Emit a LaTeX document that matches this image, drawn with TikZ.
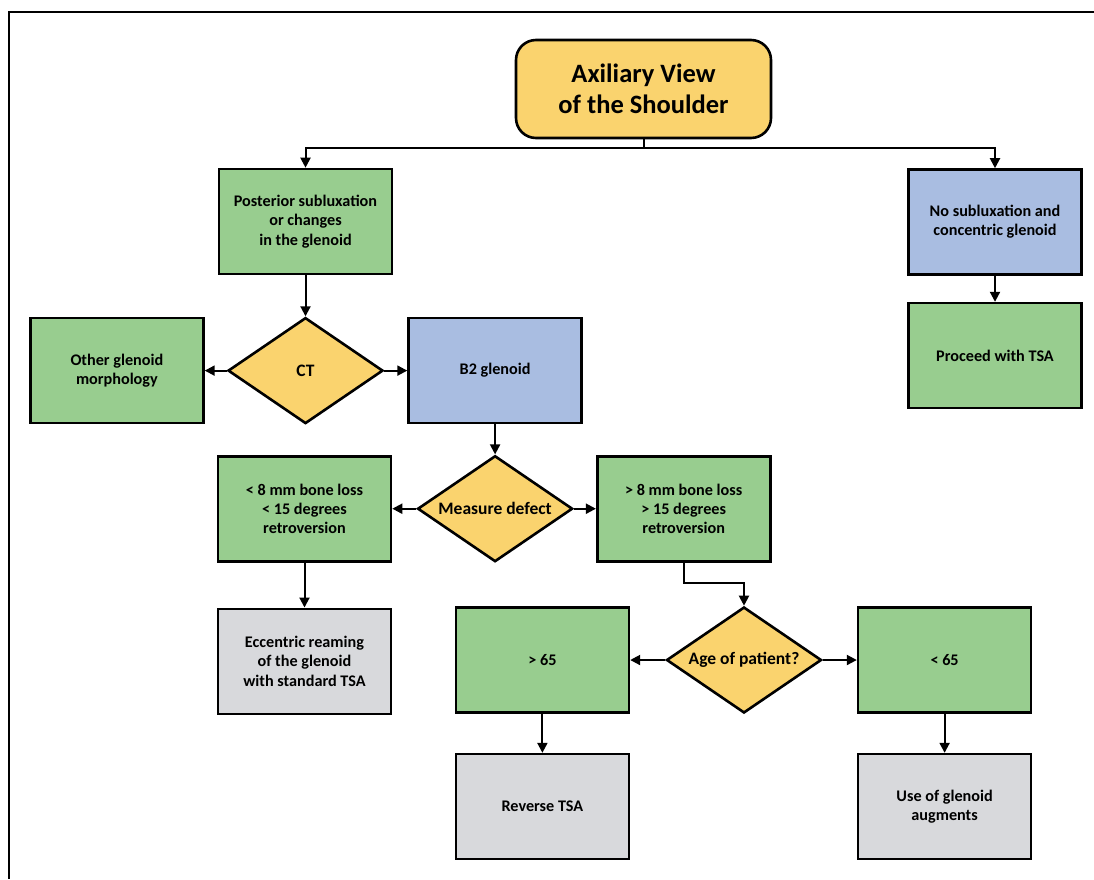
\documentclass[tikz,border=0pt]{standalone}
\usepackage{fontspec}
\setmainfont{Carlito}
\usepackage{tikz}
\usetikzlibrary{shapes.geometric, arrows.meta, positioning}

\definecolor{axyellow}{HTML}{FAD36E}
\definecolor{axgreen}{HTML}{98CD8F}
\definecolor{axblue}{HTML}{A9BDE1}
\definecolor{axgray}{HTML}{D8D9DC}

\begin{document}
\begin{tikzpicture}[
      x=1pt, y=1pt,
      font=\fontsize{16.2}{19.3}\selectfont\bfseries,
      base/.style = {draw, line width=2.6pt, align=center, inner sep=2pt},
      % --- Estilos de Blocos ---
      start/.style = {base, rectangle, rounded corners=20pt, fill=axyellow, minimum width=255pt, minimum height=98pt, font=\fontsize{26.5}{31}\selectfont\bfseries},
      proc/.style = {base, rectangle, fill=axgreen, minimum width=173pt, minimum height=105pt},
      glen/.style = {proc, fill=axblue},
      result/.style = {proc, fill=axgray},
      decision/.style = {base, diamond, aspect=1.46, fill=axyellow, minimum width=155pt, minimum height=106pt, inner sep=0pt, font=\fontsize{17.5}{21}\selectfont\bfseries},
      arrow/.style = {line width=2pt, -{Triangle[length=10pt, width=10pt]}},
      link/.style = {line width=2pt}
    ]
      \useasboundingbox (0,0) rectangle (1094,-879);
      \draw[line width=2.6pt] (1094,-12) -- (9,-12) -- (9,-879);

      % --- TOPO ---
      \node [start] (axial) at (643.5,-89) {Axiliary View\\of the Shoulder};
      \node [proc] (post) at (305.5,-221.5) {Posterior subluxation\\or changes\\in the glenoid};
      \node [glen] (nosub) at (995,-222) {No subluxation and\\concentric glenoid};
      \node [proc, below=26pt of nosub] (tsa) {Proceed with TSA};

      \draw [link] (axial.south) -- ++(0,-9) coordinate (split);
      \draw [arrow] (split) -| (post.north);
      \draw [arrow] (split) -| (nosub.north);
      \draw [arrow] (nosub) -- (tsa);

      % --- CT ---
      \node [decision, below=41pt of post] (ct) {CT};
      \node [proc, left=22pt of ct] (other) {Other glenoid\\morphology};
      \node [glen, right=23pt of ct] (b2) {B2 glenoid};

      \draw [arrow] (post) -- (ct);
      \draw [arrow] (ct) -- (other);
      \draw [arrow] (ct) -- (b2);

      % --- DEFEITO ---
      \node [decision, below=30pt of b2] (measure) {Measure defect};
      \node [proc, left=24pt of measure] (small) {< 8 mm bone loss\\< 15 degrees\\retroversion};
      \node [proc, right=22pt of measure] (large) {> 8 mm bone loss\\> 15 degrees\\retroversion};
      \node [result, below=45pt of small] (ream) {Eccentric reaming\\of the glenoid\\with standard TSA};

      \draw [arrow] (b2) -- (measure);
      \draw [arrow] (measure) -- (small);
      \draw [arrow] (measure) -- (large);
      \draw [arrow] (small) -- (ream);

      % --- IDADE ---
      \node [decision] (age) at (744,-660) {Age of patient?};
      \node [proc, left=35pt of age] (old) {> 65};
      \node [proc, right=34pt of age] (young) {< 65};
      \node [result, below=39pt of old] (reverse) {Reverse TSA};
      \node [result, below=39pt of young] (augment) {Use of glenoid\\augments};

      \draw [arrow] (large.south) -- ++(0,-20) -| (age.north);
      \draw [arrow] (age) -- (old);
      \draw [arrow] (age) -- (young);
      \draw [arrow] (old) -- (reverse);
      \draw [arrow] (young) -- (augment);

    \end{tikzpicture}
\end{document}
